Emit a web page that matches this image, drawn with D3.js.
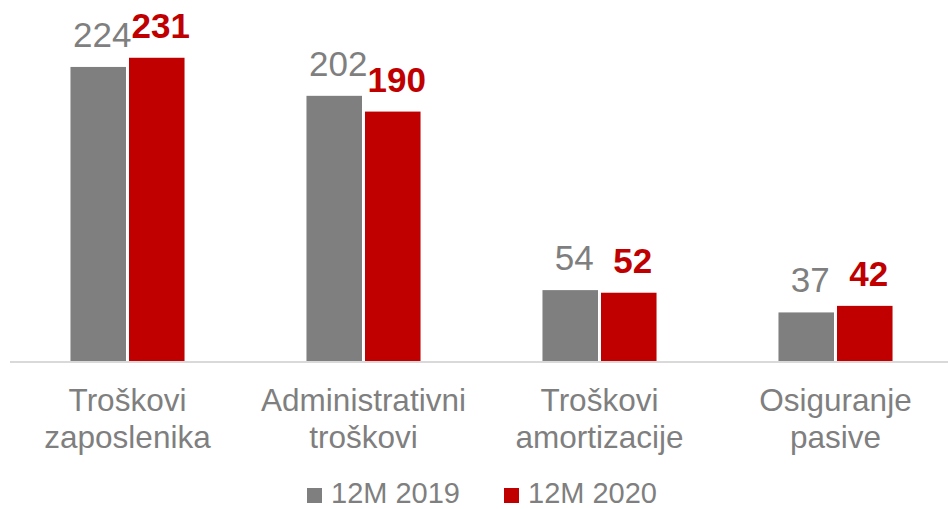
<!DOCTYPE html>
<html>
<head>
<meta charset="utf-8">
<script src="https://cdn.jsdelivr.net/npm/d3@7/dist/d3.min.js"></script>
<style>
  html, body { margin: 0; padding: 0; background: #fff; }
  svg { display: block; font-family: "Liberation Sans", Arial, sans-serif; }
</style>
</head>
<body>
<svg id="chart" width="948" height="509"></svg>
<script>
// Operating costs by category, two periods
const categories = [
  ["Troškovi", "zaposlenika"],
  ["Administrativni", "troškovi"],
  ["Troškovi", "amortizacije"],
  ["Osiguranje", "pasive"]
];
const seriesNames = ["12M 2019", "12M 2020"];
const values2019 = [224, 202, 54, 37];
const values2020 = [231, 190, 52, 42];
const seriesColors = ["#7f7f7f", "#c00000"];

const svg = d3.select("#chart");
const W = 948;
const baseline = 361;

const catKeys = categories.map((c, i) => i);
const x0 = d3.scaleBand().domain(catKeys).range([9.5, 953.5]).padding(0);
const x1 = d3.scaleBand().domain([0, 1])
  .range([x0.bandwidth() * 0.252, x0.bandwidth() * 0.748]).padding(0);
const y = d3.scaleLinear().domain([0, 275]).range([baseline, 0]);

const series = [values2019, values2020];

// baseline axis
svg.append("line")
  .attr("x1", 10).attr("x2", W)
  .attr("y1", baseline + 1).attr("y2", baseline + 1)
  .attr("stroke", "#d9d9d9").attr("stroke-width", 2);

// bars
series.forEach((vals, s) => {
  const g = svg.append("g");
  g.selectAll("rect").data(vals).join("rect")
    .attr("x", (d, i) => x0(i) + x1(s) + 1.5)
    .attr("width", x1.bandwidth() - 3)
    .attr("y", d => y(d))
    .attr("height", d => baseline - y(d))
    .attr("fill", seriesColors[s]);

  g.selectAll("text").data(vals).join("text")
    .attr("x", (d, i) => x0(i) + x1(s) + x1.bandwidth() / 2 + 4)
    .attr("y", d => y(d) - 20)
    .attr("text-anchor", "middle")
    .attr("font-size", 35)
    .attr("font-weight", s === 1 ? "bold" : "normal")
    .attr("fill", s === 1 ? "#c00000" : "#7f7f7f")
    .text(d => d);
});

// category labels
const labels = svg.append("g");
categories.forEach((lines, i) => {
  const t = labels.append("text")
    .attr("x", x0(i) + x0.bandwidth() / 2)
    .attr("y", 411)
    .attr("text-anchor", "middle")
    .attr("font-size", 31.5)
    .attr("fill", "#7f7f7f");
  lines.forEach((ln, k) => {
    t.append("tspan")
      .attr("x", x0(i) + x0.bandwidth() / 2)
      .attr("dy", k === 0 ? 0 : 37)
      .text(ln);
  });
});

// legend
const legend = svg.append("g");
const legendX = [307, 504];
seriesNames.forEach((name, s) => {
  legend.append("rect")
    .attr("x", legendX[s]).attr("y", 488)
    .attr("width", 15).attr("height", 15)
    .attr("fill", seriesColors[s]);
  legend.append("text")
    .attr("x", legendX[s] + 24).attr("y", 503)
    .attr("font-size", 29)
    .attr("fill", "#7f7f7f")
    .text(name);
});
</script>
</body>
</html>
